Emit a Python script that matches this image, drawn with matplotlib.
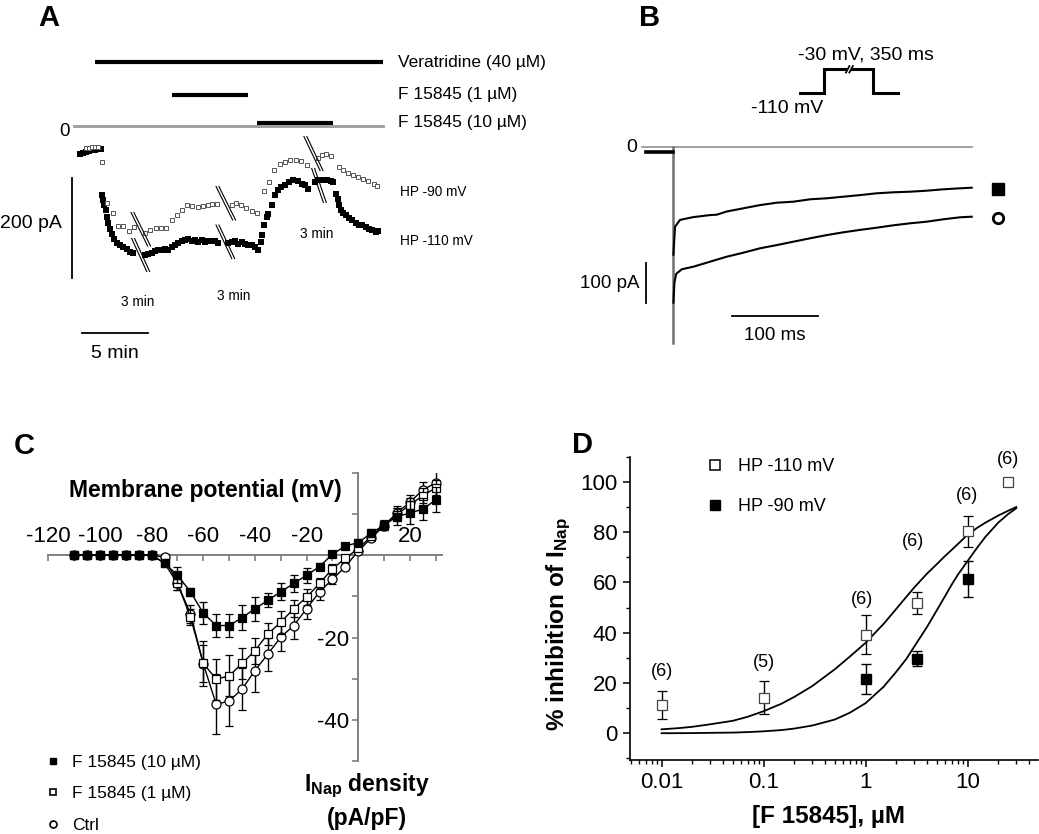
import matplotlib
matplotlib.use('Agg')
import matplotlib.pyplot as plt
from matplotlib.lines import Line2D
from matplotlib.ticker import MultipleLocator, FixedLocator, FixedFormatter, LogLocator, NullFormatter

plt.rcParams['font.family'] = ['Liberation Sans', 'DejaVu Sans']
plt.rcParams['mathtext.fontset'] = 'custom'
plt.rcParams['mathtext.rm'] = 'Liberation Sans'
plt.rcParams['mathtext.bf'] = 'Liberation Sans:bold'
plt.rcParams['mathtext.it'] = 'Liberation Sans:italic'

# ===================== DATA =====================
# ---- Panel A: I_Nap time course (display minutes, compressed at breaks; pA)
A_hp110_t = [0.45, 0.68, 0.91, 1.14, 1.36, 1.59, 1.82, 2.05,
             2.14, 2.22, 2.30, 2.40, 2.52, 2.60, 2.73, 2.86, 3.03, 3.23, 3.48, 3.73, 3.99, 4.24, 4.49,
             5.38, 5.63, 5.89, 6.14, 6.39, 6.64, 6.89, 7.14, 7.40, 7.65, 7.90, 8.16, 8.41, 8.66, 8.92,
             9.17, 9.42, 9.67, 9.92, 10.17, 10.43, 10.68, 10.93,
             11.69, 11.95, 12.20, 12.45, 12.70, 12.95, 13.20, 13.46, 13.71, 13.96, 14.17, 14.27, 14.42,
             14.60, 14.72, 15.02, 15.23, 15.43, 15.68, 15.98, 16.29, 16.61, 16.95, 17.25, 17.50, 17.75,
             18.26, 18.51, 18.81, 19.14, 19.47, 19.64, 19.83, 19.98, 20.08, 20.23, 20.40, 20.58, 20.83,
             21.08, 21.34, 21.59, 21.84, 22.10, 22.35, 22.60, 22.86, 23.05]
A_hp110_I = [-56, -54, -52, -50, -48, -47, -46, -45,
             -137, -148, -158, -168, -181, -193, -205, -215, -225, -233, -238, -241, -245, -251, -253,
             -258, -255, -253, -250, -248, -248, -246, -248, -241, -237, -233, -230, -228, -225, -230,
             -228, -231, -228, -231, -230, -230, -230, -233,
             -233, -231, -230, -235, -231, -235, -238, -237, -241, -248, -231, -218, -198,
             -181, -175, -157, -138, -128, -121, -117, -111, -108, -110, -115, -118, -125,
             -111, -108, -108, -108, -110, -111, -135, -145, -158, -168, -173, -178, -183,
             -188, -193, -197, -198, -201, -205, -208, -211, -210]
A_hp90_t = [0.91, 1.14, 1.36, 1.59, 1.82, 2.10, 2.48, 2.92, 3.36, 3.73, 4.19, 4.57,
            5.38, 5.76, 6.21, 6.59, 6.99, 7.40, 7.78, 8.20, 8.58, 8.95, 9.38, 9.77, 10.13, 10.49, 10.81,
            11.95, 12.30, 12.67, 13.05, 13.45, 13.84,
            14.39, 14.80, 15.15, 15.61, 15.98, 16.36, 16.80, 17.20, 17.63,
            18.46, 18.79, 19.11, 19.48, 20.06, 20.40, 20.76, 21.17, 21.55, 21.93, 22.31, 22.71, 22.92]
A_hp90_I = [-43, -43, -42, -42, -41, -71, -153, -173, -199, -199, -209, -201,
            -213, -207, -203, -203, -203, -188, -177, -167, -158, -159, -161, -159, -157, -156, -155,
            -157, -153, -157, -163, -170, -174,
            -130, -111, -87, -75, -71, -68, -68, -69, -78,
            -63, -58, -55, -59, -81, -88, -93, -98, -101, -105, -109, -115, -120]
A_drugs = ['Veratridine (40 µM)', 'F 15845 (1 µM)', 'F 15845 (10 µM)']
A_drug_start = [1.6, 7.45, 13.85]
A_drug_end = [23.4, 13.2, 19.6]
A_record_end = 23.4
# break marks (t_top, I_top, t_bottom, I_bottom)
A_breaks = [(4.32, -173, 5.58, -240), (4.37, -225, 5.51, -291),
            (10.76, -121, 12.02, -188), (10.76, -198, 11.95, -265),
            (17.42, -21, 18.64, -89), (18.01, -85, 18.89, -153)]
A_scale_pA = 200
A_scale_min = 5

# ---- Panel B: current traces (ms, pA)
B_sq_t = [0.8, 2.7, 8.5, 24, 43.4, 51.2, 62.8, 82.1, 101.5, 120.9, 140.2, 159.7, 179.1,
          198.4, 217.8, 237.2, 256.5, 276, 295.3, 314.7, 334.1, 347.7]
B_sq_I = [-270, -200, -183, -176, -171, -170, -162, -154, -146, -140, -137.5, -131.5, -129,
          -125, -121, -116.5, -114, -112.5, -110, -106.5, -104, -102.5]
B_ci_t = [0.8, 2.0, 4.0, 10.5, 24, 43.4, 62.8, 82.1, 101.5, 120.9, 140.2, 159.7, 179.1,
          198.4, 217.8, 237.2, 256.5, 276, 295.3, 314.7, 334.1, 347.7]
B_ci_I = [-390, -340, -318, -306.5, -300, -287.5, -275, -265, -254, -246, -237.5, -229, -221,
          -214, -208, -202.5, -196.5, -191.5, -187.5, -181.5, -176.5, -175]
B_base_t = [-31, 0]
B_base_I = [-12, -12]
B_transient_t = [0, 0]
B_transient_I = [0, -490]
B_step_ms = 350
B_scale_pA = 100
B_scale_ms = 100
prot_t = [0, 1, 1, 3, 3, 4]
prot_v = [-110, -110, -30, -30, -110, -110]

# ---- Panel C: I-V relationship
C_V = [-110, -105, -100, -95, -90, -85, -80, -75, -70, -65, -60, -55, -50, -45, -40,
       -35, -30, -25, -20, -15, -10, -5, 0, 5, 10, 15, 20, 25, 30]
C_f10 = [0, 0, 0, 0, 0, 0, 0, -2.0, -4.9, -8.9, -14.1, -17.1, -17.1, -15.2, -13.0,
         -11.0, -8.9, -6.9, -4.9, -2.8, 0.2, 2.2, 3.0, 5.3, 7.3, 9.3, 10.2, 11.1, 13.4]
C_f10_err = [0, 0, 0, 0, 0, 0, 0, 0.5, 1.9, 1.0, 2.6, 2.8, 2.8, 3.1, 2.9,
             1.7, 2.0, 2.0, 1.8, 0.8, 0.5, 0.5, 0.8, 1.0, 1.3, 2.0, 2.8, 2.6, 3.0]
C_f1 = [0, 0, 0, 0, 0, 0, 0, -2.0, -6.9, -15.0, -26.3, -30.1, -29.3, -26.3, -23.2,
        -19.1, -16.3, -13.0, -10.2, -6.9, -3.3, -0.8, 1.6, 4.5, 7.3, 9.8, 12.2, 14.4, 16.3]
C_f1_err = [0, 0, 0, 0, 0, 0, 0, 0.5, 1.5, 2.0, 5.5, 5.0, 5.0, 3.7, 3.2,
            2.6, 2.8, 2.0, 2.0, 1.4, 1.0, 0.6, 0.5, 0.6, 1.0, 1.5, 1.6, 1.8, 2.0]
C_ctrl = [0, 0, 0, 0, 0, 0, 0, -0.6, -6.9, -14.2, -26.4, -36.2, -35.4, -32.5, -28.0,
          -24.0, -19.9, -17.1, -13.0, -8.9, -5.9, -2.8, 1.0, 4.1, 7.1, 10.3, 12.8, 15.8, 17.5]
C_ctrl_err = [0, 0, 0, 0, 0, 0, 0, 0.3, 1.5, 2.2, 4.5, 7.3, 6.0, 5.0, 5.3,
              4.0, 3.3, 3.3, 2.4, 2.0, 1.2, 0.8, 0.5, 0.6, 1.0, 1.5, 1.8, 2.0, 3.0]
C_labels = ['F 15845 (10 µM)', 'F 15845 (1 µM)', 'Ctrl']

# ---- Panel D: concentration-inhibition
D_conc110 = [0.01, 0.1, 1, 3.16, 10, 25]
D_inh110 = [11.3, 14.2, 39.3, 51.7, 80.4, 100]
D_err110 = [5.6, 6.6, 7.6, 4.4, 6.2, 0]
D_n110 = ['(6)', '(5)', '(6)', '(6)', '(6)', '(6)']
D_conc90 = [1, 3.16, 10]
D_inh90 = [21.6, 29.7, 61.5]
D_err90 = [6.1, 3.0, 7.2]
D_fit_x = [0.01, 0.015, 0.02, 0.03, 0.05, 0.07, 0.1, 0.15, 0.2, 0.3, 0.5, 0.7, 1, 1.5, 2, 2.5,
           3, 4, 5, 6, 7, 8, 10, 12.5, 15, 20, 25, 30]
D_fit110 = [1.6, 2.1, 2.6, 3.6, 5.0, 6.6, 8.8, 11.8, 14.5, 18.8, 25.5, 30.5, 36, 43.5, 49.5, 54.2,
            58, 63.5, 67.3, 70.5, 73, 75.2, 79, 81.8, 83.8, 86.6, 88.5, 90]
D_fit90 = [0.05, 0.07, 0.1, 0.2, 0.3, 0.5, 0.8, 1.3, 1.9, 3.1, 5.5, 8.2, 12, 18.5, 24.5, 29.5,
           34.5, 42.3, 49, 54.5, 59.2, 63, 68.5, 74, 78.2, 83.8, 87.2, 89.5]
D_labels = ['HP -110 mV', 'HP -90 mV']

# ===================== FIGURE =====================
W, H = 1039, 834
fig = plt.figure(figsize=(W / 100, H / 100), dpi=100)


def rect(x0, y0, x1, y1):
    return [x0 / W, 1 - y1 / H, (x1 - x0) / W, (y1 - y0) / H]


def ftext(px, py, s, **kw):
    return fig.text(px / W, 1 - py / H, s, **kw)


# ---------- Panel A ----------
axA = fig.add_axes(rect(0, 0, 520, 370))
axA.set_xlim(-5.606, 33.788)
axA.set_ylim(-488, 252)
axA.axis('off')
bar_levels = [129, 62, 7]
for s, e, lev in zip(A_drug_start, A_drug_end, bar_levels):
    axA.plot([s, e], [lev, lev], color='black', lw=3.0, solid_capstyle='butt')
axA.plot([0, A_record_end], [0, 0], color='#9a9a9a', lw=2.0)
axA.plot(A_hp110_t, A_hp110_I, ls='none', marker='s', ms=3.9, color='black', mew=0)
axA.plot(A_hp90_t, A_hp90_I, ls='none', marker='s', ms=3.5, mfc='white', mec='#555555', mew=0.7)
for (t0, i0, t1, i1) in A_breaks:
    for dt in (0.0, 0.22):
        axA.plot([t0 + dt, t1 + dt], [i0, i1], color='black', lw=0.8)
axA.plot([-0.17, -0.17], [-103, -103 - A_scale_pA], color='black', lw=1.3)
axA.plot([0.58, 0.58 + A_scale_min], [-414, -414], color='black', lw=1.3)

for name, py in zip(A_drugs, [62, 95, 122]):
    ftext(398, py, name, fontsize=12.5, ha='left', va='center')
ftext(65, 131, '0', fontsize=13.5, ha='center', va='center')
ftext(61.7, 223, '200 pA', fontsize=14, ha='right', va='center')
ftext(115, 353, '5 min', fontsize=14, ha='center', va='center')
ftext(137.7, 301.7, '3 min', fontsize=9.8, ha='center', va='center')
ftext(233.3, 295.7, '3 min', fontsize=9.8, ha='center', va='center')
ftext(316.7, 234.3, '3 min', fontsize=9.8, ha='center', va='center')
ftext(400, 192.3, 'HP -90 mV', fontsize=9.8, ha='left', va='center')
ftext(400, 240.7, 'HP -110 mV', fontsize=9.8, ha='left', va='center')

# ---------- Panel B ----------
axB = fig.add_axes(rect(560, 0, 1039, 370))
axB.set_xlim(-131.05, 425.9)
axB.set_ylim(-558.25, 366.75)
axB.axis('off')
axB.plot([-36, B_step_ms - 1.5], [0, 0], color='#9a9a9a', lw=1.3)
axB.plot(B_transient_t, B_transient_I, color='#707070', lw=1.8)
axB.plot(B_base_t, B_base_I, color='black', lw=2.6)
axB.plot(B_sq_t, B_sq_I, color='black', lw=1.5)
axB.plot(B_ci_t, B_ci_I, color='black', lw=1.5)
axB.plot([-31, -31], [-291.5, -291.5 - B_scale_pA], color='black', lw=1.3)
axB.plot([68.6, 68.6 + B_scale_ms], [-423, -423], color='black', lw=1.3)
axB.plot([378.5], [-106.5], ls='none', marker='s', ms=8, color='black')
axB.plot([378.5], [-179], ls='none', marker='o', ms=7.5, mfc='white', mec='black', mew=2)
ftext(631.7, 147, '0', fontsize=14, ha='center', va='center')
ftext(640, 283, '100 pA', fontsize=13.5, ha='right', va='center')
ftext(774.7, 336, '100 ms', fontsize=13.5, ha='center', va='center')

axP = fig.add_axes(rect(800, 69.3, 897.8, 92.7))
axP.set_xlim(0, 4)
axP.set_ylim(-110, -30)
axP.axis('off')
axP.plot(prot_t, prot_v, color='black', lw=2.2, clip_on=False, solid_joinstyle='miter')
axP.plot([1.97, 2.07], [-30, -30], color='white', lw=3.0, clip_on=False,
         solid_capstyle='butt', zorder=3)
axP.plot([1.88, 2.02], [-41, -19], color='black', lw=1.3, clip_on=False, zorder=4)
axP.plot([2.02, 2.16], [-41, -19], color='black', lw=1.3, clip_on=False, zorder=4)
ftext(866, 55, '-30 mV, 350 ms', fontsize=14, ha='center', va='center')
ftext(786.7, 108.3, '-110 mV', fontsize=14, ha='center', va='center')

# ---------- Panel C ----------
axC = fig.add_axes([48.3 / W, 1 - 761.25 / H, 394 / W, 288.75 / H])
axC.set_xlim(-120, 32.5)
axC.set_ylim(-50, 20)
gray = '#7f7f7f'
for sp in ['right', 'bottom']:
    axC.spines[sp].set_visible(False)
axC.spines['left'].set_position(('data', 0))
axC.spines['top'].set_position(('data', 0))
for sp in ['left', 'top']:
    axC.spines[sp].set_color(gray)
    axC.spines[sp].set_linewidth(1.4)
axC.xaxis.set_ticks_position('top')
axC.xaxis.set_major_locator(FixedLocator([-120, -100, -80, -60, -40, -20, 0, 20]))
axC.xaxis.set_major_formatter(FixedFormatter(['-120', '-100', '-80', '-60', '-40', '-20', '', '20']))
axC.xaxis.set_minor_locator(MultipleLocator(10))
axC.yaxis.set_major_locator(FixedLocator([-40, -20]))
axC.yaxis.set_major_formatter(FixedFormatter(['-40', '-20']))
axC.yaxis.set_minor_locator(FixedLocator([-50, -30, -10, 10, 20]))
axC.tick_params(axis='x', which='both', direction='in', length=4.5, width=1.2, color=gray,
                labelsize=16, pad=6)
axC.tick_params(axis='y', which='both', direction='out', length=4.5, width=1.2, color=gray,
                labelsize=16, pad=2)
common = dict(color='black', lw=1.0, elinewidth=1.0, capsize=3, capthick=1.0)
hC = axC.errorbar(C_V, C_ctrl, yerr=C_ctrl_err, fmt='-o', ms=6.5, mfc='white', mec='black',
                  mew=0.9, zorder=3, **common)
h1 = axC.errorbar(C_V, C_f1, yerr=C_f1_err, fmt='-s', ms=6.2, mfc='white', mec='black',
                  mew=0.9, zorder=4, **common)
h10 = axC.errorbar(C_V, C_f10, yerr=C_f10_err, fmt='-s', ms=6.2, mfc='black', mec='black',
                   mew=0.9, zorder=5, **common)
for h in (hC, h1, h10):
    h[0].set_clip_on(False)
legC = [Line2D([], [], ls='none', marker='s', ms=5, color='black'),
        Line2D([], [], ls='none', marker='s', ms=5, mfc='white', mec='black', mew=1.2),
        Line2D([], [], ls='none', marker='o', ms=5, mfc='white', mec='black', mew=1.2)]
fig.legend(legC, C_labels, loc='upper left', bbox_to_anchor=(44 / W, 1 - 755 / H),
           frameon=False, fontsize=12.5, handlelength=1.0, handletextpad=0.6,
           labelspacing=0.93, borderpad=0, borderaxespad=0)
ftext(205, 491, 'Membrane potential (mV)', fontsize=16.5, fontweight='bold', ha='center', va='center')
ftext(367, 786, r'$\mathbf{I_{Nap}}$ density', fontsize=16.5, fontweight='bold', ha='center', va='center')
ftext(367, 819, '(pA/pF)', fontsize=16.5, fontweight='bold', ha='center', va='center')

# ---------- Panel D ----------
axD = fig.add_axes([630 / W, 1 - 760 / H, 408 / W, 303.3 / H])
axD.set_xscale('log')
axD.set_xlim(0.0049, 49)
axD.set_ylim(-10.6, 110)
for sp in ['right', 'top']:
    axD.spines[sp].set_visible(False)
for sp in ['left', 'bottom']:
    axD.spines[sp].set_linewidth(1.2)
axD.yaxis.set_major_locator(FixedLocator([0, 20, 40, 60, 80, 100]))
axD.yaxis.set_minor_locator(FixedLocator([-10, 10, 30, 50, 70, 90, 110]))
axD.xaxis.set_major_locator(FixedLocator([0.01, 0.1, 1, 10]))
axD.xaxis.set_major_formatter(FixedFormatter(['0.01', '0.1', '1', '10']))
axD.xaxis.set_minor_locator(LogLocator(base=10, subs=range(2, 10)))
axD.xaxis.set_minor_formatter(NullFormatter())
axD.tick_params(which='major', direction='out', length=5, width=1.1, labelsize=16, pad=4)
axD.tick_params(which='minor', direction='out', length=3, width=1.0)
axD.plot(D_fit_x, D_fit110, color='black', lw=1.3)
axD.plot(D_fit_x, D_fit90, color='black', lw=1.3)
axD.errorbar(D_conc110, D_inh110, yerr=D_err110, fmt='s', ms=6.5, mfc='white', mec='#444444',
             mew=0.9, ecolor='black', elinewidth=1.0, capsize=3.5, capthick=1.0, zorder=4)
axD.errorbar(D_conc90, D_inh90, yerr=D_err90, fmt='s', ms=6.5, mfc='black', mec='black',
             ecolor='black', elinewidth=1.0, capsize=3.5, capthick=1.0, zorder=4)
n_offsets = [7.5, 7.5, 6.5, 20, 8, 9]
n_xshift = [1.0, 1.0, 0.93, 0.93, 0.98, 1.0]
for c, v, e, lab, off, xs in zip(D_conc110, D_inh110, D_err110, D_n110, n_offsets, n_xshift):
    axD.text(c * xs, v + e + off, lab, fontsize=13, ha='center', va='center')
legD = [Line2D([], [], ls='none', marker='s', ms=6.5, mfc='white', mec='black', mew=1.1),
        Line2D([], [], ls='none', marker='s', ms=6.5, color='black')]
fig.legend(legD, D_labels, loc='upper left', bbox_to_anchor=(706 / W, 1 - 458 / H),
           frameon=False, fontsize=13, handlelength=1.0, handletextpad=0.8,
           labelspacing=1.3, borderpad=0, borderaxespad=0)
ftext(559, 624, r'% inhibition of $\mathbf{I_{Nap}}$', fontsize=17.5, fontweight='bold',
      rotation=90, ha='center', va='center')
ftext(828, 817, '[F 15845], µM', fontsize=17.5, fontweight='bold', ha='center', va='center')

# ---------- panel letters ----------
for lab, px, py in [('A', 49, 18), ('B', 649.5, 18), ('C', 24, 446), ('D', 583, 445)]:
    ftext(px, py, lab, fontsize=21, fontweight='bold', ha='center', va='center')

fig.savefig('out.png', dpi=100, facecolor='white')
